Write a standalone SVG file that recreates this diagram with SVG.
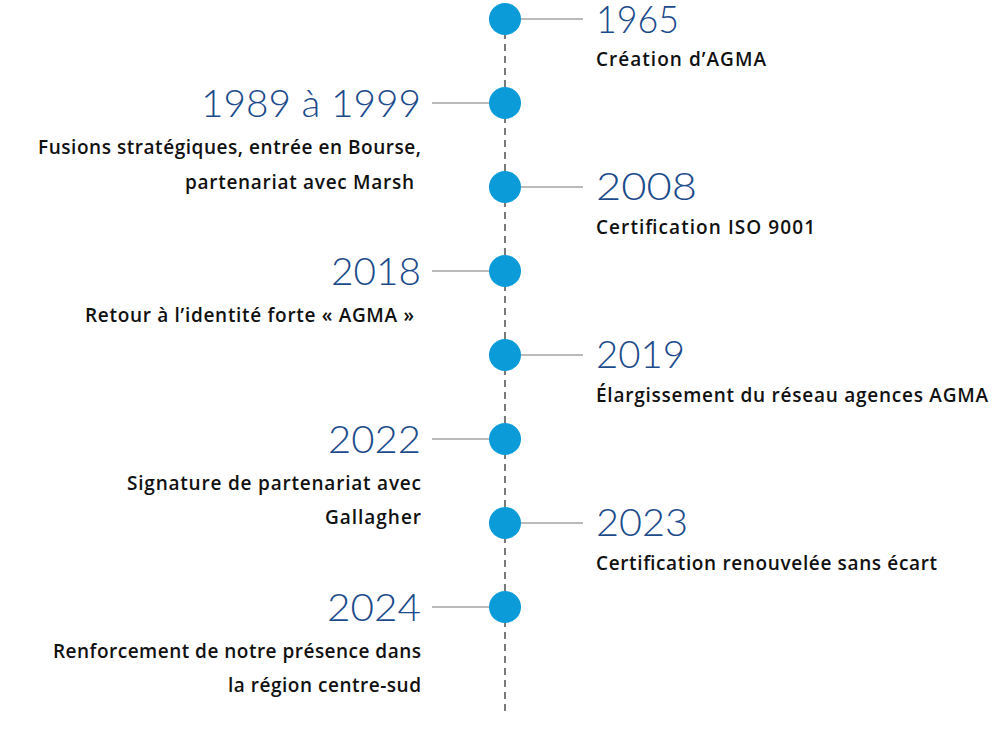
<svg xmlns="http://www.w3.org/2000/svg" width="1000" height="752" viewBox="0 0 1000 752">
<style>
.yr{font-family:Lato,"Open Sans",sans-serif;font-weight:300;font-size:37px;fill:#1c4b8c}
.ds{font-family:"Open Sans","Noto Sans",sans-serif;font-weight:600;font-size:19px;fill:#111}
.r{text-anchor:end}
.dot{fill:#0a9bd8}
.ln{stroke:#777;stroke-width:1;fill:none}
</style>
<rect width="1000" height="752" fill="#fff"/>
<g id="connectors">
<line x1="505" y1="20" x2="505" y2="712" stroke="#222" stroke-width="1.2" stroke-dasharray="7,5"/>
<line class="ln" x1="505" y1="19" x2="583" y2="19"/>
<line class="ln" x1="432" y1="103" x2="505" y2="103"/>
<line class="ln" x1="505" y1="187" x2="583" y2="187"/>
<line class="ln" x1="432" y1="271" x2="505" y2="271"/>
<line class="ln" x1="505" y1="355" x2="583" y2="355"/>
<line class="ln" x1="432" y1="439" x2="505" y2="439"/>
<line class="ln" x1="505" y1="523" x2="583" y2="523"/>
<line class="ln" x1="432" y1="607" x2="505" y2="607"/>
</g>
<g id="n1965"><circle class="dot" cx="505" cy="19" r="16"/><text class="yr" x="596" y="33" textLength="83" lengthAdjust="spacingAndGlyphs">1965</text><text class="ds" x="596" y="66" textLength="170">Création d’AGMA</text></g>
<g id="n1989"><circle class="dot" cx="505" cy="103" r="16"/><text class="yr r" x="421" y="117" textLength="220" lengthAdjust="spacingAndGlyphs">1989 à 1999</text><text class="ds r" x="421" y="154" textLength="383">Fusions stratégiques, entrée en Bourse,</text><text class="ds r" x="414" y="189" textLength="229">partenariat avec Marsh</text></g>
<g id="n2008"><circle class="dot" cx="505" cy="187" r="16"/><text class="yr" x="596" y="200" textLength="101" lengthAdjust="spacingAndGlyphs">2008</text><text class="ds" x="596" y="234" textLength="219">Certification ISO 9001</text></g>
<g id="n2018"><circle class="dot" cx="505" cy="271" r="16"/><text class="yr r" x="421" y="285" textLength="90" lengthAdjust="spacingAndGlyphs">2018</text><text class="ds r" x="414" y="322" textLength="329">Retour à l’identité forte « AGMA »</text></g>
<g id="n2019"><circle class="dot" cx="505" cy="355" r="16"/><text class="yr" x="596" y="368" textLength="89" lengthAdjust="spacingAndGlyphs">2019</text><text class="ds" x="596" y="402" textLength="392">Élargissement du réseau agences AGMA</text></g>
<g id="n2022"><circle class="dot" cx="505" cy="439" r="16"/><text class="yr r" x="421" y="453" textLength="93" lengthAdjust="spacingAndGlyphs">2022</text><text class="ds r" x="421" y="490" textLength="294">Signature de partenariat avec</text><text class="ds r" x="421" y="524" textLength="96">Gallagher</text></g>
<g id="n2023"><circle class="dot" cx="505" cy="523" r="16"/><text class="yr" x="596" y="536" textLength="92" lengthAdjust="spacingAndGlyphs">2023</text><text class="ds" x="596" y="570" textLength="341">Certification renouvelée sans écart</text></g>
<g id="n2024"><circle class="dot" cx="505" cy="607" r="16"/><text class="yr r" x="421" y="621" textLength="94" lengthAdjust="spacingAndGlyphs">2024</text><text class="ds r" x="421" y="658" textLength="368">Renforcement de notre présence dans</text><text class="ds r" x="421" y="692" textLength="193">la région centre-sud</text></g>
</svg>
